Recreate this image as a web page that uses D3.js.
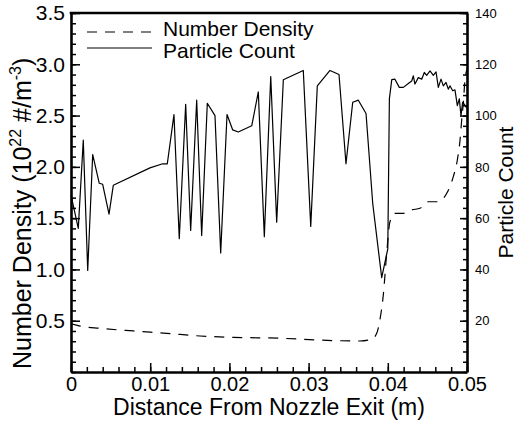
<!DOCTYPE html>
<html>
<head>
<meta charset="utf-8">
<script src="https://cdn.jsdelivr.net/npm/d3@7"></script>
<style>
  body { margin: 0; background: #fff; }
  text { font-family: "Liberation Sans", Arial, sans-serif; fill: #000; }
</style>
</head>
<body>
<svg id="chart"></svg>
<script>
// distance from nozzle exit (m) and number density (1e22 #/m^3)
const densityX = [0, 0.00114, 0.00366, 0.00787, 0.01208, 0.01629, 0.02049, 0.02681, 0.03102, 0.03649,
  0.03797, 0.0386, 0.039, 0.03943, 0.03986, 0.04027, 0.04091, 0.04196, 0.04302, 0.04407,
  0.04511, 0.04617, 0.04681, 0.04744, 0.04827, 0.04878, 0.04912, 0.04933, 0.04953, 0.04975, 0.05];
const densityY = [0.47, 0.448, 0.426, 0.40, 0.377, 0.351, 0.338, 0.328, 0.312, 0.302,
  0.319, 0.377, 0.507, 0.75, 1.157, 1.465, 1.547, 1.547, 1.58, 1.596,
  1.66, 1.66, 1.677, 1.742, 1.904, 2.067, 2.26, 2.457, 2.62, 2.85, 2.95];

// particle count along the same axis
const countX = [0, 0.00092, 0.00155, 0.00211, 0.00274, 0.00357, 0.004, 0.0048, 0.00534, 0.00997,
  0.01158, 0.01216, 0.0130, 0.01367, 0.01448, 0.01511, 0.01587, 0.0165, 0.01721, 0.01818,
  0.0189, 0.0197, 0.02042, 0.02112, 0.02282, 0.02365, 0.02441, 0.02522, 0.02597, 0.02681,
  0.02933, 0.03027, 0.0311, 0.0327, 0.03384, 0.03472, 0.03557, 0.03628, 0.03725, 0.0381,
  0.03923, 0.04, 0.0402, 0.0405, 0.0409, 0.04145, 0.04196, 0.04259, 0.04302, 0.04322,
  0.04343, 0.04385, 0.04428, 0.04461, 0.04491, 0.04533, 0.04575, 0.04609, 0.04638, 0.04672,
  0.04701, 0.04735, 0.04764, 0.04785, 0.04819, 0.04848, 0.04878, 0.04903, 0.04924, 0.04945,
  0.04975, 0.04996];
const countY = [69, 56, 90.4, 39.6, 84.8, 73.6, 73.2, 61.6, 72.8, 79.6,
  81.2, 81.2, 100.4, 52, 104.4, 55.2, 106, 53.2, 104.8, 100,
  46.4, 100.4, 94.4, 93.6, 96, 109.2, 52.8, 115.2, 58.4, 114,
  117.6, 56.8, 111.6, 117.6, 116, 81.2, 105.2, 106, 100.8, 65.6,
  36.8, 48, 106.5, 114, 114.2, 111, 111, 112.5, 113.5, 115.5,
  112.3, 114.8, 114.2, 116.8, 115.7, 117.4, 115.7, 117, 111, 114.2,
  111.6, 112.9, 110.3, 111.6, 109.7, 110, 103.9, 106.5, 100, 105.2,
  104, 103];

const xTicks = [0, 0.01, 0.02, 0.03, 0.04, 0.05];
const leftTicks = [0.5, 1.0, 1.5, 2.0, 2.5, 3.0, 3.5];
const rightTicks = [20, 40, 60, 80, 100, 120, 140];
const legendLabels = ["Number Density", "Particle Count"];

const svgWidth = 516;
const svgHeight = 425;
const plotLeft = 71, plotRight = 467, plotTop = 13, plotBottom = 372;

const svg = d3.select("#chart")
    .attr("width", svgWidth)
    .attr("height", svgHeight);

svg.append("rect").attr("width", svgWidth).attr("height", svgHeight).attr("fill", "#fff");

const x = d3.scaleLinear().domain([0, 0.05]).range([plotLeft, plotRight]);
const yL = d3.scaleLinear().domain([0, 3.5]).range([plotBottom, plotTop]);
const yR = d3.scaleLinear().domain([0, 140]).range([plotBottom, plotTop]);

// minor ticks first, then major axes on top
svg.append("g").attr("transform", `translate(0,${plotBottom})`)
    .call(d3.axisBottom(x).tickValues(d3.range(0, 0.0501, 0.002)).tickSize(-5).tickFormat(""))
    .call(g => g.select(".domain").remove());
svg.append("g").attr("transform", `translate(${plotLeft},0)`)
    .call(d3.axisLeft(yL).tickValues(d3.range(0, 3.51, 0.1)).tickSize(-5).tickFormat(""))
    .call(g => g.select(".domain").remove());
svg.append("g").attr("transform", `translate(${plotRight},0)`)
    .call(d3.axisRight(yR).tickValues(d3.range(0, 140.1, 4)).tickSize(-4).tickFormat(""))
    .call(g => g.select(".domain").remove());

const xAxis = svg.append("g").attr("transform", `translate(0,${plotBottom})`)
    .call(d3.axisBottom(x).tickValues(xTicks).tickSize(-9).tickSizeOuter(0).tickPadding(5)
        .tickFormat(d => d === 0 ? "0" : d3.format(".2f")(d)));
xAxis.selectAll("text").attr("font-size", 20);

const leftAxis = svg.append("g").attr("transform", `translate(${plotLeft},0)`)
    .call(d3.axisLeft(yL).tickValues(leftTicks).tickSize(-9).tickSizeOuter(0).tickPadding(6)
        .tickFormat(d3.format(".1f")));
leftAxis.selectAll("text").attr("font-size", 21);

const rightAxis = svg.append("g").attr("transform", `translate(${plotRight},0)`)
    .call(d3.axisRight(yR).tickValues(rightTicks).tickSize(-7).tickSizeOuter(0).tickPadding(8));
rightAxis.selectAll("text").attr("font-size", 13);

svg.selectAll(".tick line").attr("stroke", "#000").attr("stroke-width", 1.5);
svg.selectAll(".domain").attr("stroke", "#000").attr("stroke-width", 2.6);
svg.selectAll(".tick text").attr("fill", "#000").style("font-family", "Liberation Sans, Arial, sans-serif");

svg.append("line")
    .attr("x1", plotLeft - 1.3).attr("x2", plotRight + 1.3)
    .attr("y1", plotTop).attr("y2", plotTop)
    .attr("stroke", "#000").attr("stroke-width", 2.6);

// data lines
svg.append("path")
    .datum(d3.zip(densityX, densityY))
    .attr("d", d3.line().x(d => x(d[0])).y(d => yL(d[1])).curve(d3.curveMonotoneX))
    .attr("fill", "none")
    .attr("stroke", "#000")
    .attr("stroke-width", 1.2)
    .attr("stroke-dasharray", "10,8");

svg.append("path")
    .datum(d3.zip(countX, countY))
    .attr("d", d3.line().x(d => x(d[0])).y(d => yR(d[1])))
    .attr("fill", "none")
    .attr("stroke", "#000")
    .attr("stroke-width", 1.2)
    .attr("stroke-linejoin", "round");

// legend
const legend = svg.append("g");
legend.append("line").attr("x1", 87).attr("x2", 152).attr("y1", 32).attr("y2", 32)
    .attr("stroke", "#000").attr("stroke-width", 1.2).attr("stroke-dasharray", "10,8");
legend.append("line").attr("x1", 87).attr("x2", 152).attr("y1", 48).attr("y2", 48)
    .attr("stroke", "#000").attr("stroke-width", 1.2);
legend.selectAll("text")
    .data(legendLabels)
    .enter()
    .append("text")
    .attr("x", 163)
    .attr("y", (d, i) => 36 + i * 22)
    .attr("font-size", 21)
    .text(d => d);

// axis titles
svg.append("text")
    .attr("x", (plotLeft + plotRight) / 2)
    .attr("y", 415)
    .attr("text-anchor", "middle")
    .attr("font-size", 23)
    .text("Distance From Nozzle Exit (m)");

const yTitle = svg.append("text")
    .attr("transform", "translate(31,369) rotate(-90)")
    .attr("text-anchor", "start")
    .attr("font-size", 25);
yTitle.append("tspan").text("Number Density (10");
yTitle.append("tspan").attr("font-size", 16).attr("dy", -10).text("22");
yTitle.append("tspan").attr("dy", 10).text(" #/m");
yTitle.append("tspan").attr("font-size", 16).attr("dy", -10).text("-3");
yTitle.append("tspan").attr("dy", 10).text(")");

svg.append("text")
    .attr("transform", `translate(513,${(plotTop + plotBottom) / 2}) rotate(-90)`)
    .attr("text-anchor", "middle")
    .attr("font-size", 21)
    .text("Particle Count");
</script>
</body>
</html>
